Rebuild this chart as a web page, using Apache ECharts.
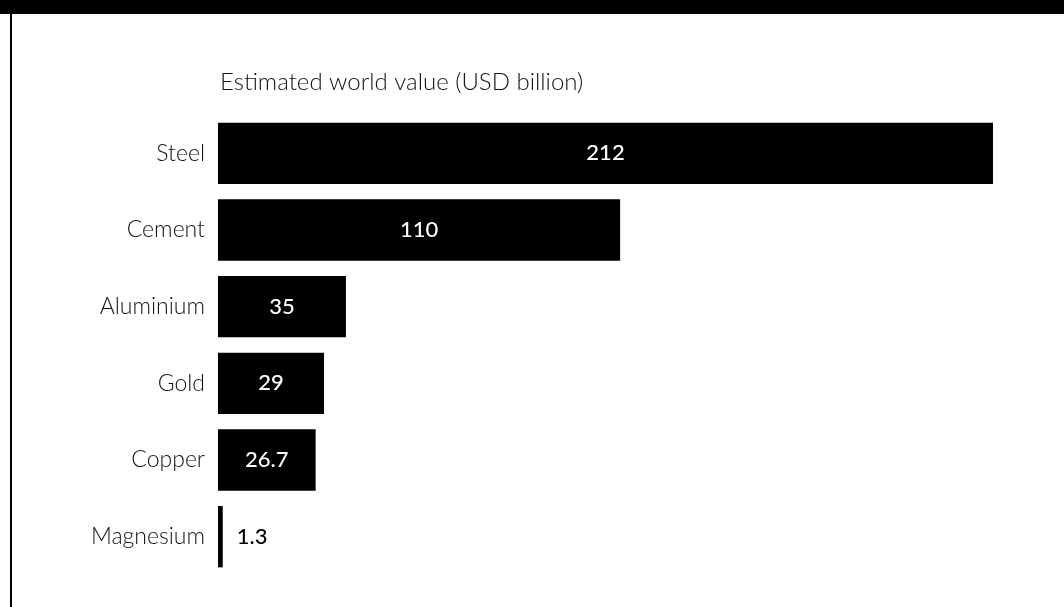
<!DOCTYPE html>
<html>
<head>
<meta charset="utf-8">
<script src="https://cdn.jsdelivr.net/npm/echarts@6/dist/echarts.min.js"></script>
<style>
html,body{margin:0;padding:0;background:#fff;}
#chart{width:1064px;height:607px;}
</style>
</head>
<body>
<div id="chart"></div>
<script>
const categories = ['Steel', 'Cement', 'Aluminium', 'Gold', 'Copper', 'Magnesium'];
const values = [212, 110, 35, 29, 26.7, 1.3];
const valueLabels = ['212', '110', '35', '29', '26.7', '1.3'];
const titleText = 'Estimated world value (USD billion)';

const FONT = 'Lato, "Open Sans", sans-serif';
const chart = echarts.init(document.getElementById('chart'));

const data = values.map((v, i) => {
  const small = v < 5;
  return {
    value: v,
    label: small ? {
      position: 'right', distance: 14, color: '#000'
    } : {
      position: 'inside', color: '#fff'
    }
  };
});

chart.setOption({
  animation: false,
  backgroundColor: '#fff',
  title: {
    text: titleText,
    left: 215, top: 65,
    textStyle: { fontFamily: FONT, fontSize: 24, fontWeight: 300, color: '#111' }
  },
  grid: { left: 218, right: 71, top: 115, height: 460, containLabel: false },
  xAxis: {
    type: 'value', min: 0, max: 212, show: false
  },
  yAxis: {
    type: 'category', data: categories, inverse: true,
    axisLine: { show: false }, axisTick: { show: false }, splitLine: { show: false },
    axisLabel: { margin: 13, fontFamily: FONT, fontSize: 23, fontWeight: 300, color: '#111' }
  },
  series: [{
    type: 'bar',
    data: data,
    barCategoryGap: '20%',
    itemStyle: { color: '#000' },
    label: {
      show: true,
      fontFamily: FONT, fontSize: 22, fontWeight: 500,
      formatter: p => valueLabels[p.dataIndex]
    }
  }],
  graphic: [
    { type: 'rect', shape: { x: 0, y: 0, width: 1064, height: 14 }, style: { fill: '#000' }, silent: true },
    { type: 'rect', shape: { x: 10, y: 14, width: 2, height: 593 }, style: { fill: '#000' }, silent: true }
  ]
});
</script>
</body>
</html>
